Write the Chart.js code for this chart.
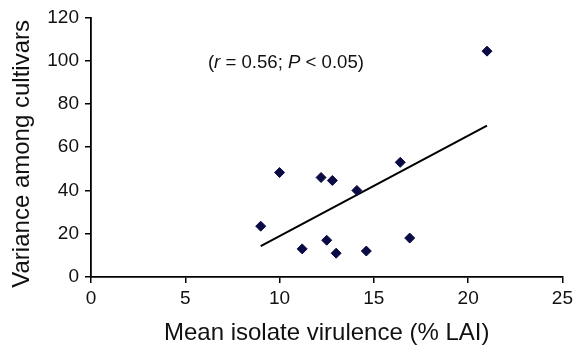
<!DOCTYPE html>
<html>
<head>
<meta charset="utf-8">
<script src="https://cdn.jsdelivr.net/npm/chart.js@4.4.1/dist/chart.umd.min.js"></script>
<style>
  html, body { margin: 0; padding: 0; background: #fff; }
  #wrap { width: 577px; height: 349px; position: relative; }
</style>
</head>
<body>
<div id="wrap"><canvas id="c" width="577" height="349"></canvas></div>
<script>
// Data
const virulence = [9.0, 10.0, 11.2, 12.2, 12.8, 12.5, 13.0, 14.1, 14.6, 16.4, 16.9, 21.0];
const varianceAmongCultivars = [23.5, 48.3, 13.0, 46.0, 44.6, 17.0, 11.0, 40.0, 12.0, 53.0, 18.0, 104.4];
const trendX = [9.0, 21.0];
const trendY = [14.3, 70.0];
const xTicks = [0, 5, 10, 15, 20, 25];
const yTicks = [0, 20, 40, 60, 80, 100, 120];
const xTitle = 'Mean isolate virulence (% LAI)';
const yTitle = 'Variance among cultivars  ';
const annotationAnchor = [6.2, 99.0];

const FONT = "'Liberation Sans', Arial, Helvetica, sans-serif";

const annotationPlugin = {
  id: 'rAnnotation',
  afterDraw(chart) {
    const ctx = chart.ctx;
    const xs = chart.scales.x, ys = chart.scales.y;
    let x = xs.getPixelForValue(annotationAnchor[0]);
    const y = ys.getPixelForValue(annotationAnchor[1]);
    const parts = [
      ['(', false], ['r', true], [' = 0.56; ', false], ['P', true], [' < 0.05)', false]
    ];
    ctx.save();
    ctx.fillStyle = '#111';
    ctx.textBaseline = 'middle';
    ctx.textAlign = 'left';
    for (const [t, it] of parts) {
      ctx.font = (it ? 'italic ' : '') + '18.6px ' + FONT;
      ctx.fillText(t, x, y);
      x += ctx.measureText(t).width;
    }
    ctx.restore();
  }
};

new Chart(document.getElementById('c'), {
  type: 'scatter',
  data: {
    datasets: [
      {
        label: 'isolates',
        data: virulence.map((v, i) => ({ x: v, y: varianceAmongCultivars[i] })),
        pointStyle: 'rectRot',
        pointRadius: 5,
        pointBackgroundColor: '#0a0a44',
        pointBorderColor: '#0a0a44',
        pointBorderWidth: 1,
        showLine: false
      },
      {
        label: 'trend',
        type: 'line',
        data: trendX.map((v, i) => ({ x: v, y: trendY[i] })),
        borderColor: '#000',
        borderWidth: 2,
        pointRadius: 0,
        fill: false,
        tension: 0
      }
    ]
  },
  options: {
    responsive: false,
    animation: false,
    devicePixelRatio: 1,
    layout: { padding: { top: 12, right: 11, left: 0, bottom: 0 } },
    plugins: { legend: { display: false }, tooltip: { enabled: false } },
    scales: {
      x: {
        type: 'linear',
        min: 0, max: 25,
        afterBuildTicks(scale) { scale.ticks = xTicks.map(v => ({ value: v })); },
        afterFit(scale) { scale.height = 72; },
        border: { display: true, color: '#000', width: 1.8 },
        grid: { display: true, drawOnChartArea: false, drawTicks: true, tickLength: 6, color: '#000', lineWidth: 1.5 },
        ticks: { color: '#111', font: { family: FONT, size: 19 }, padding: 4, maxRotation: 0 },
        title: { display: true, text: xTitle, color: '#111', font: { family: FONT, size: 24 }, padding: { top: 0, bottom: 1 } }
      },
      y: {
        type: 'linear',
        min: 0, max: 120,
        afterBuildTicks(scale) { scale.ticks = yTicks.map(v => ({ value: v })); },
        afterFit(scale) { scale.width = 91; },
        border: { display: true, color: '#000', width: 1.8 },
        grid: { display: true, drawOnChartArea: false, drawTicks: true, tickLength: 6, color: '#000', lineWidth: 1.5 },
        ticks: { color: '#111', font: { family: FONT, size: 19 }, padding: 6 },
        title: { display: true, text: yTitle, color: '#111', font: { family: FONT, size: 24 }, padding: { top: 8, bottom: 0 } }
      }
    }
  },
  plugins: [annotationPlugin]
});
</script>
</body>
</html>
